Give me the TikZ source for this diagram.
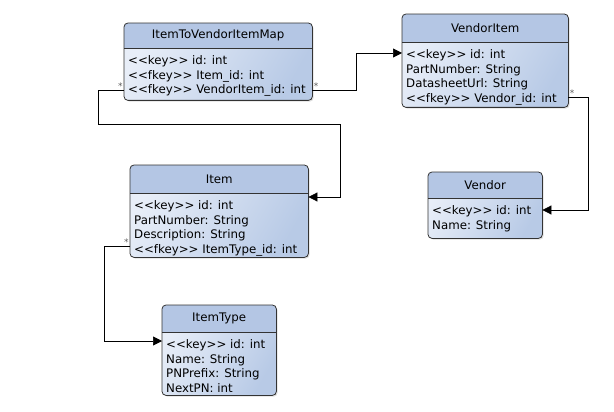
\documentclass[tikz,border=0pt]{standalone}
\usepackage{fontspec}
\setmainfont{DejaVu Sans}
\usetikzlibrary{arrows.meta, shadows}

\definecolor{headblue}{HTML}{B4C6E4}
\definecolor{bodylight}{HTML}{E8EEF8}
\definecolor{bodydark}{HTML}{B8CAE6}
\definecolor{edgegray}{HTML}{333333}

\tikzset{
  entity/.style={rectangle, rounded corners=4pt, inner sep=0pt,
    left color=bodylight, right color=bodydark, shading angle=60,
    drop shadow={opacity=0.25, shadow xshift=1.5pt, shadow yshift=-1.5pt}},
  headfill/.style={fill=headblue},
  outline/.style={draw=edgegray, line width=0.8pt, rounded corners=4pt},
  divider/.style={draw=edgegray, line width=0.6pt},
  title/.style={inner sep=0pt, font=\fontsize{11.8}{14}\selectfont},
  rows/.style={inner sep=0pt, align=left, font=\fontsize{11.8}{14.5}\selectfont},
  assoc/.style={draw=black, line width=0.7pt, -{Triangle[length=9pt, width=9pt]}},
  mult/.style={inner sep=1pt, text=gray!70!black, font=\fontsize{9}{10}\selectfont}
}

% name, left, top, width, height, header height, title, rows
\newcommand{\umlentity}[8]{%
  \node[entity, minimum width=#4pt, minimum height=#5pt, anchor=north west] (#1) at (#2,#3) {};
  \begin{scope}
    \clip[rounded corners=4pt] (#1.north west) rectangle (#1.south east);
    \fill[headfill] (#1.north west) rectangle ([yshift=-#6pt]#1.north east);
  \end{scope}
  \draw[divider] ([yshift=-#6pt]#1.north west) -- ([yshift=-#6pt]#1.north east);
  \draw[outline] (#1.north west) rectangle (#1.south east);
  \node[title] at ([yshift=-#6pt/2]#1.north) {#7};
  \node[rows, anchor=north west] at ([xshift=4pt, yshift=-#6pt-7.5pt]#1.north west) {#8};
}

\begin{document}
\begin{tikzpicture}[x=1pt, y=-1pt]
  \useasboundingbox (0,0) rectangle (614,412);

  % Classes
  \umlentity{map}{124}{23}{188}{77}{25}{ItemToVendorItemMap}
    {<{}<key>{}> id: int\\<{}<fkey>{}> Item\_id: int\\<{}<fkey>{}> VendorItem\_id: int}
  \umlentity{vitem}{402}{14}{166}{93}{28}{VendorItem}
    {<{}<key>{}> id: int\\PartNumber: String\\DatasheetUrl: String\\<{}<fkey>{}> Vendor\_id: int}
  \umlentity{vendor}{428}{172}{114}{66}{26}{Vendor}
    {<{}<key>{}> id: int\\Name: String}
  \umlentity{item}{130}{165}{178}{92}{28}{Item}
    {<{}<key>{}> id: int\\PartNumber: String\\Description: String\\<{}<fkey>{}> ItemType\_id: int}
  \umlentity{itype}{162}{305}{114}{90}{27}{ItemType}
    {<{}<key>{}> id: int\\Name: String\\PNPrefix: String\\NextPN: int}

  % Associations
  \draw[assoc] ([yshift=10pt]map.south east) node[mult, above right] {*}
    -- ++(44,0) |- ([yshift=-39pt]vitem.north west);
  \draw[assoc] ([yshift=10pt]map.south west) node[mult, above left] {*}
    -- ++(-26,0) |- (340,124) |- ([yshift=-32pt]item.north east);
  \draw[assoc] ([yshift=10pt]vitem.south east) node[mult, above right] {*}
    -- ++(20,0) |- ([yshift=-38pt]vendor.north east);
  \draw[assoc] ([yshift=11pt]item.south west) node[mult, above left] {*}
    -- ++(-26,0) |- ([yshift=-36pt]itype.north west);
\end{tikzpicture}
\end{document}
